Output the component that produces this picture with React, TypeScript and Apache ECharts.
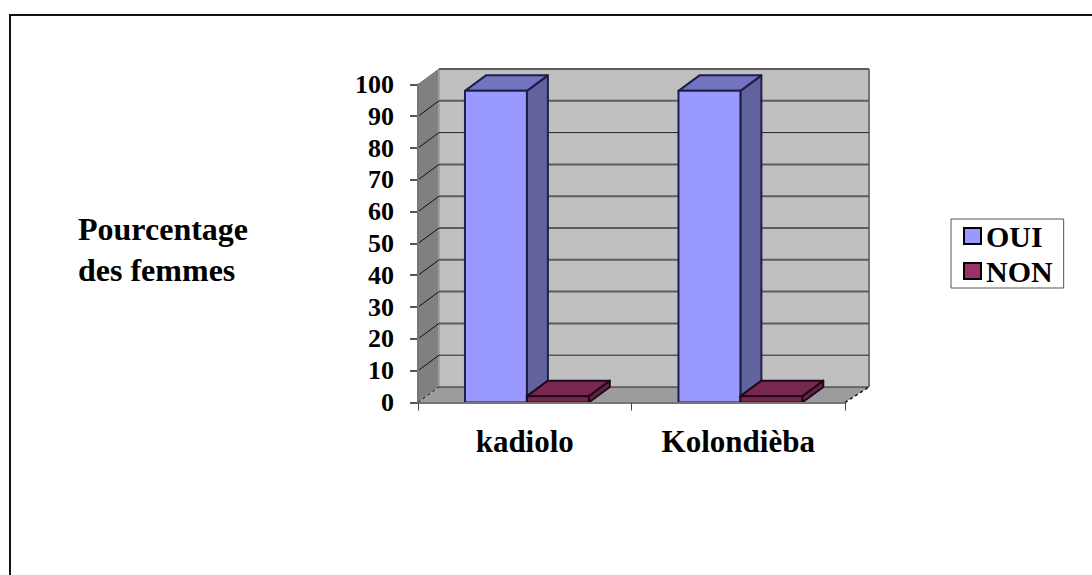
import React, { useEffect, useRef } from "react";
import * as echarts from "echarts";

const categories = ["kadiolo", "Kolondièba"];
const ouiValues = [98, 98];
const nonValues = [2, 2];
const yTicks = [0, 10, 20, 30, 40, 50, 60, 70, 80, 90, 100];
const thinTicks = [0, 10, 80];
const sideTitle = "Pourcentage\ndes femmes";

const FONT = "'Liberation Serif', 'Times New Roman', serif";
const DX = 21;
const DX_RIGHT = 24;
const DY = 15.5;
const GAP_FRAC = 0.22;
const BAR_FRAC = 0.29;

function wallsRenderItem(params: any, api: any) {
  const c = params.coordSys;
  const l = c.x, r = c.x + c.width, t = c.y, b = c.y + c.height;
  return {
    type: "group",
    silent: true,
    children: [
      { type: "polygon", shape: { points: [[l + DX, t - DY], [r + DX_RIGHT, t - DY], [r + DX_RIGHT, b - DY], [l + DX, b - DY]] }, style: { fill: "#c0c0c0" } },
      { type: "polygon", shape: { points: [[l, t], [l + DX, t - DY], [l + DX, b - DY], [l, b]] }, style: { fill: "#808080" } },
      { type: "polygon", shape: { points: [[l, b], [l + DX, b - DY], [r + DX_RIGHT, b - DY], [r, b]] }, style: { fill: "#9c9c9c" } },
      { type: "line", shape: { x1: r + DX_RIGHT, y1: t - DY, x2: r + DX_RIGHT, y2: b - DY }, style: { stroke: "#777777", lineWidth: 2 } },
      { type: "line", shape: { x1: l + DX, y1: t - DY, x2: l + DX, y2: b - DY }, style: { stroke: "#a0a0a0", lineWidth: 2 } },
      { type: "line", shape: { x1: r, y1: b, x2: r + DX_RIGHT, y2: b - DY }, style: { stroke: "#111111", lineWidth: 1.5, lineDash: [3, 3] } },
    ],
  };
}

function gridRenderItem(params: any, api: any) {
  const c = params.coordSys;
  const v = api.value(0);
  const y = api.coord([0, v])[1];
  const l = c.x, r = c.x + c.width;
  const thin = thinTicks.indexOf(v) >= 0;
  return {
    type: "group",
    silent: true,
    children: [
      { type: "line", shape: { x1: l + DX, y1: y - DY, x2: r + DX_RIGHT, y2: y - DY }, style: { stroke: thin ? "#222222" : "#5c5c5c", lineWidth: thin ? 1 : 2 } },
      { type: "line", shape: { x1: l, y1: y, x2: l + DX, y2: y - DY }, style: { stroke: v === 100 ? "#777777" : "#111111", lineWidth: 1, lineDash: v === 0 ? [3, 3] : undefined } },
      { type: "rect", shape: { x: l - 8, y: Math.round(y) - 1, width: 8, height: 2 }, style: { fill: "#555555" } },
    ],
  };
}

function barRenderer(slot: number, front: string, side: string, top: string, edge: string) {
  return (params: any, api: any) => {
    const p = api.coord([api.value(0), api.value(1)]);
    const base = api.coord([api.value(0), 0]);
    const band = api.size([1, 0])[0];
    const w = band * BAR_FRAC;
    const x0 = p[0] - band / 2 + band * GAP_FRAC + slot * w;
    const x1 = x0 + w;
    const yT = p[1];
    const yB = base[1];
    const st = { stroke: edge, lineWidth: 2, lineJoin: "round" };
    return {
      type: "group",
      children: [
        { type: "polygon", shape: { points: [[x1, yT], [x1 + DX, yT - DY], [x1 + DX, yB - DY], [x1, yB]] }, style: { fill: side, ...st } },
        { type: "polygon", shape: { points: [[x0, yT], [x0 + DX, yT - DY], [x1 + DX, yT - DY], [x1, yT]] }, style: { fill: top, ...st } },
        { type: "rect", shape: { x: x0, y: yT, width: w, height: yB - yT }, style: { fill: front, ...st } },
      ],
    };
  };
}

export default function App() {
  const ref = useRef<HTMLDivElement>(null);
  useEffect(() => {
    const chart = echarts.init(ref.current!, undefined, { renderer: "svg" });
    chart.setOption({
      animation: false,
      backgroundColor: "#ffffff",
      textStyle: { fontFamily: FONT },
      title: {
        text: sideTitle,
        left: 78,
        top: 208,
        padding: 0,
        textStyle: { fontFamily: FONT, fontWeight: "bold", fontSize: 32, lineHeight: 41, color: "#000000" },
      },
      legend: {
        data: ["OUI", "NON"],
        orient: "vertical",
        left: 951,
        top: 219,
        padding: [2, 11, 2, 12],
        itemWidth: 17,
        itemHeight: 16,
        itemGap: 5,
        icon: "rect",
        selectedMode: false,
        backgroundColor: "#ffffff",
        borderColor: "#555555",
        borderWidth: 1,
        itemStyle: { borderColor: "#000000", borderWidth: 2 },
        textStyle: { fontFamily: FONT, fontWeight: "bold", fontSize: 30, lineHeight: 30, color: "#000000" },
      },
      graphic: [
        {
          type: "rect",
          silent: true,
          shape: { x: 10, y: 15, width: 1200, height: 700 },
          style: { fill: "transparent", stroke: "#111111", lineWidth: 2 },
        },
      ],
      grid: { left: 418, top: 84.5, width: 427, height: 318 },
      xAxis: {
        type: "category",
        data: categories,
        boundaryGap: true,
        z: 10,
        axisLine: { show: true, lineStyle: { color: "#777777", width: 2 } },
        axisTick: { show: true, alignWithLabel: false, length: 8, lineStyle: { color: "#444444", width: 1 } },
        axisLabel: { margin: 23, fontFamily: FONT, fontWeight: "bold", fontSize: 31, color: "#000000", interval: 0 },
      },
      yAxis: {
        type: "value",
        min: 0,
        max: 100,
        interval: 10,
        z: 10,
        splitLine: { show: false },
        axisLine: { show: true, lineStyle: { color: "#777777", width: 2 } },
        axisTick: { show: false },
        axisLabel: { margin: 24, fontFamily: FONT, fontWeight: "bold", fontSize: 26, color: "#000000" },
      },
      series: [
        { type: "custom", name: "walls", silent: true, z: 1, clip: false, data: [[0]], encode: { y: 0 }, renderItem: wallsRenderItem },
        { type: "custom", name: "grid", silent: true, z: 2, clip: false, data: yTicks.map((v) => [v]), encode: { y: 0 }, renderItem: gridRenderItem },
        {
          type: "custom", name: "OUI", z: 3, clip: false,
          itemStyle: { color: "#9999ff", borderColor: "#000000", borderWidth: 2 },
          data: ouiValues.map((v, i) => [i, v]),
          encode: { x: 0, y: 1 },
          renderItem: barRenderer(0, "#9999ff", "#62629f", "#7373c0", "#1e1e4a"),
        },
        {
          type: "custom", name: "NON", z: 4, clip: false,
          itemStyle: { color: "#993366", borderColor: "#000000", borderWidth: 2 },
          data: nonValues.map((v, i) => [i, v]),
          encode: { x: 0, y: 1 },
          renderItem: barRenderer(1, "#7a2850", "#6a2046", "#78284e", "#1c0a18"),
        },
      ],
    });
    return () => chart.dispose();
  }, []);
  return <div ref={ref} style={{ position: "fixed", left: 0, top: 0, width: 1092, height: 575 }} />;
}
